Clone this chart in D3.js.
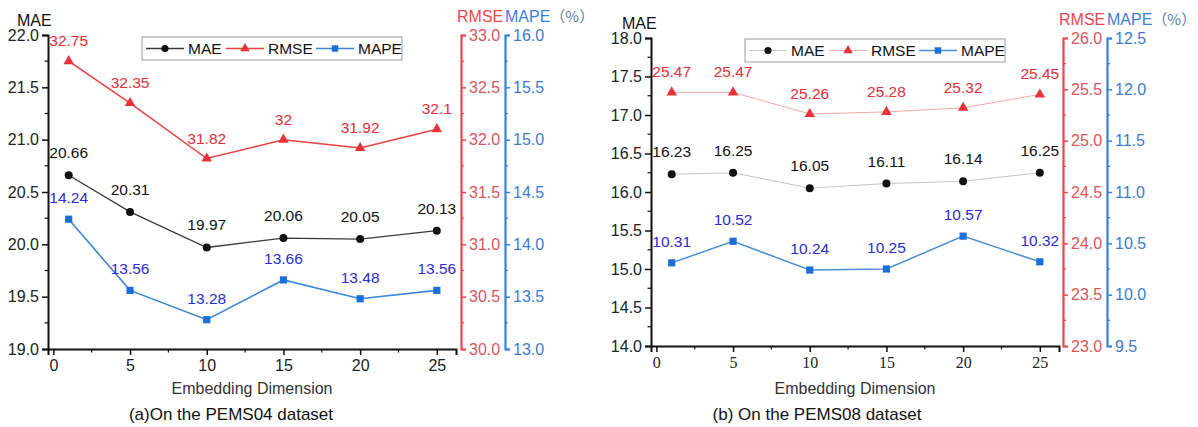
<!DOCTYPE html>
<html>
<head>
<meta charset="utf-8">
<script src="https://cdn.jsdelivr.net/npm/d3@7"></script>
<style>
  html, body { margin: 0; padding: 0; background: #fff; }
  svg { display: block; }
  text { font-family: "Liberation Sans", Arial, "Noto Sans CJK SC", sans-serif; }
</style>
</head>
<body>
<svg id="chart" width="1198" height="427"></svg>
<script>
// Embedding dimensions tested
const dims = [1, 5, 10, 15, 20, 25];
const xTicks = [0, 5, 10, 15, 20, 25];

// PEMS04 results
const mae04 = [20.66, 20.31, 19.97, 20.06, 20.05, 20.13];
const rmse04 = [32.75, 32.35, 31.82, 32, 31.92, 32.1];
const mape04 = [14.24, 13.56, 13.28, 13.66, 13.48, 13.56];

// PEMS08 results
const mae08 = [16.23, 16.25, 16.05, 16.11, 16.14, 16.25];
const rmse08 = [25.47, 25.47, 25.26, 25.28, 25.32, 25.45];
const mape08 = [10.31, 10.52, 10.24, 10.25, 10.57, 10.32];

// Axis ranges
const maeDomain04 = [19, 22], rmseDomain04 = [30, 33], mapeDomain04 = [13, 16];
const maeDomain08 = [14, 18], rmseDomain08 = [23, 26], mapeDomain08 = [9.5, 12.5];

const seriesNames = ["MAE", "RMSE", "MAPE"];
const captions = ["(a)On the PEMS04 dataset", "(b) On the PEMS08 dataset"];
const xTitle = "Embedding Dimension";

const svg = d3.select("#chart");
svg.append("rect").attr("width", 1198).attr("height", 427).attr("fill", "#fff");

const RED_AXIS = "#e8474c", RED_TXT = "#d9545a", RED_LBL = "#e52d35";
const BLUE_AXIS = "#3a7fd8", BLUE_TXT = "#3d7ccc", BLUE_LBL = "#2c2cd2";

function drawPanel(p) {
  const g = svg.append("g");
  const x = d3.scaleLinear().domain([-0.35, 26.25]).range([p.left, p.right]);
  const yL = d3.scaleLinear().domain(p.maeDomain).range([p.bottom, p.top]);
  const yR = d3.scaleLinear().domain(p.rmseDomain).range([p.bottom, p.top]);
  const yB = d3.scaleLinear().domain(p.mapeDomain).range([p.bottom, p.top]);

  const minor = (dom, step) => d3.range(dom[0], dom[1] + 1e-9, step);

  // x axis
  const xAxis = g.append("g").attr("transform", `translate(0,${p.bottom})`)
    .call(d3.axisBottom(x).tickValues(xTicks).tickSize(6).tickPadding(5).tickFormat(d3.format("d")));
  xAxis.select(".domain").attr("stroke", "#111").attr("stroke-width", 2);
  xAxis.selectAll(".tick line").attr("stroke", "#111").attr("stroke-width", 1.5);
  xAxis.selectAll("text").attr("font-size", 16).attr("fill", "#222")
    .style("font-family", p.serifX ? "'Liberation Serif', 'Times New Roman', serif" : null);
  g.append("g").selectAll("line").data(d3.range(2.5, 26, 5)).join("line")
    .attr("x1", d => x(d)).attr("x2", d => x(d))
    .attr("y1", p.bottom).attr("y2", p.bottom + 3.5)
    .attr("stroke", "#111").attr("stroke-width", 1.2);

  // left MAE axis
  const lAxis = g.append("g").attr("transform", `translate(${p.left},0)`)
    .call(d3.axisLeft(yL).tickValues(minor(p.maeDomain, 0.5)).tickSize(6).tickPadding(3).tickFormat(d3.format(".1f")));
  lAxis.select(".domain").attr("stroke", "#111").attr("stroke-width", 2);
  lAxis.selectAll(".tick line").attr("stroke", "#111").attr("stroke-width", 1.5);
  lAxis.selectAll("text").attr("font-size", 16).attr("fill", "#222");
  g.append("g").selectAll("line").data(minor(p.maeDomain, 0.25).filter((d, i) => i % 2)).join("line")
    .attr("x1", p.left).attr("x2", p.left - 3.5).attr("y1", d => yL(d)).attr("y2", d => yL(d))
    .attr("stroke", "#111").attr("stroke-width", 1.2);

  // right RMSE and MAPE axes
  function rightAxis(scale, xpos, dom, color, txt) {
    const a = g.append("g").attr("transform", `translate(${xpos},0)`)
      .call(d3.axisRight(scale).tickValues(minor(dom, 0.5)).tickSize(5).tickPadding(3).tickFormat(d3.format(".1f")));
    a.select(".domain").attr("stroke", color).attr("stroke-width", 2.2);
    a.selectAll(".tick line").attr("stroke", color).attr("stroke-width", 1.5);
    a.selectAll("text").attr("font-size", 16).attr("fill", txt);
    g.append("g").selectAll("line").data(minor(dom, 0.25).filter((d, i) => i % 2)).join("line")
      .attr("x1", xpos).attr("x2", xpos + 3).attr("y1", d => scale(d)).attr("y2", d => scale(d))
      .attr("stroke", color).attr("stroke-width", 1.2);
  }
  rightAxis(yR, p.redX, p.rmseDomain, RED_AXIS, RED_TXT);
  rightAxis(yB, p.blueX, p.mapeDomain, BLUE_AXIS, BLUE_TXT);

  // axis titles
  g.append("text").attr("x", p.maeTitleX).attr("y", p.titleY + 4).attr("font-size", 16).attr("fill", "#111").text("MAE");
  g.append("text").attr("x", p.redX - 4).attr("y", p.titleY).attr("font-size", 16).attr("fill", RED_AXIS).text("RMSE");
  const mt = g.append("text").attr("x", p.redX + 44).attr("y", p.titleY).attr("font-size", 16);
  mt.append("tspan").attr("fill", BLUE_AXIS).text("MAPE");
  mt.append("tspan").attr("fill", "#5a7da8").style("font-family", "'Noto Sans CJK SC', sans-serif")
    .attr("font-size", 15).text("（%）");

  // series
  const series = [
    { vals: p.mae, y: yL, line: p.maeLine, lw: p.maeLw, mark: d3.symbolCircle, size: 50, fill: "#111", lbl: "#111", dy: -17 },
    { vals: p.rmse, y: yR, line: p.rmseLine, lw: p.rmseLw, mark: d3.symbolTriangle, size: 48, fill: "#e8333b", lbl: RED_LBL, dy: -15 },
    { vals: p.mape, y: yB, line: p.mapeLine, lw: p.mapeLw, mark: d3.symbolSquare, size: 52, fill: "#1c6fd8", lbl: BLUE_LBL, dy: -16 }
  ];
  series.forEach(s => {
    const pts = dims.map((d, i) => [d, s.vals[i]]);
    g.append("path").datum(pts)
      .attr("d", d3.line().x(d => x(d[0])).y(d => s.y(d[1])))
      .attr("fill", "none").attr("stroke", s.line).attr("stroke-width", s.lw);
    g.append("g").selectAll("path").data(pts).join("path")
      .attr("transform", d => `translate(${x(d[0])},${s.y(d[1])})`)
      .attr("d", d3.symbol(s.mark, s.size)).attr("fill", s.fill);
    g.append("g").selectAll("text").data(pts).join("text")
      .attr("x", d => x(d[0])).attr("y", d => s.y(d[1]) + s.dy)
      .attr("text-anchor", "middle").attr("font-size", 15.5).attr("fill", s.lbl)
      .text(d => String(d[1]));
  });

  // legend
  const lg = g.append("g");
  lg.append("rect").attr("x", p.legX).attr("y", p.legY).attr("width", 260).attr("height", 23)
    .attr("fill", "#fff").attr("stroke", "#999").attr("stroke-width", 1);
  const offs = [0, 80, 170];
  series.forEach((s, i) => {
    const lx = p.legX + 4 + offs[i];
    const cy = p.legY + 11.5;
    lg.append("line").attr("x1", lx).attr("x2", lx + 38).attr("y1", cy).attr("y2", cy)
      .attr("stroke", s.line).attr("stroke-width", s.lw);
    lg.append("path").attr("transform", `translate(${lx + 19},${cy})`)
      .attr("d", d3.symbol(s.mark, s.size * 0.8)).attr("fill", s.fill);
    lg.append("text").attr("x", lx + 42).attr("y", cy + 5.5).attr("font-size", 15.5).attr("fill", "#111")
      .text(seriesNames[i]);
  });

  // x title and caption
  g.append("text").attr("x", (p.left + p.right) / 2).attr("y", 394).attr("text-anchor", "middle")
    .attr("font-size", 16).attr("fill", "#333").text(xTitle);
  g.append("text").attr("x", p.capX).attr("y", 420).attr("text-anchor", "middle")
    .attr("font-size", 17).attr("fill", "#111").text(p.caption);
}

drawPanel({
  left: 48, right: 456, top: 35, bottom: 349, redX: 461, blueX: 505,
  maeDomain: maeDomain04, rmseDomain: rmseDomain04, mapeDomain: mapeDomain04,
  mae: mae04, rmse: rmse04, mape: mape04,
  maeLine: "#3a3a3a", maeLw: 1.3, rmseLine: "#e8413e", rmseLw: 1.5, mapeLine: "#3b86d6", mapeLw: 1.6,
  legX: 142, legY: 37, titleY: 22, maeTitleX: 17, capX: 231, caption: captions[0], serifX: false
});

drawPanel({
  left: 651, right: 1059, top: 38, bottom: 346, redX: 1063, blueX: 1107,
  maeDomain: maeDomain08, rmseDomain: rmseDomain08, mapeDomain: mapeDomain08,
  mae: mae08, rmse: rmse08, mape: mape08,
  maeLine: "#c4c4c4", maeLw: 1, rmseLine: "#f0a8a8", rmseLw: 1, mapeLine: "#4a8fd8", mapeLw: 1.5,
  legX: 745, legY: 39, titleY: 25, maeTitleX: 622, capX: 817, caption: captions[1], serifX: true
});
</script>
</body>
</html>
